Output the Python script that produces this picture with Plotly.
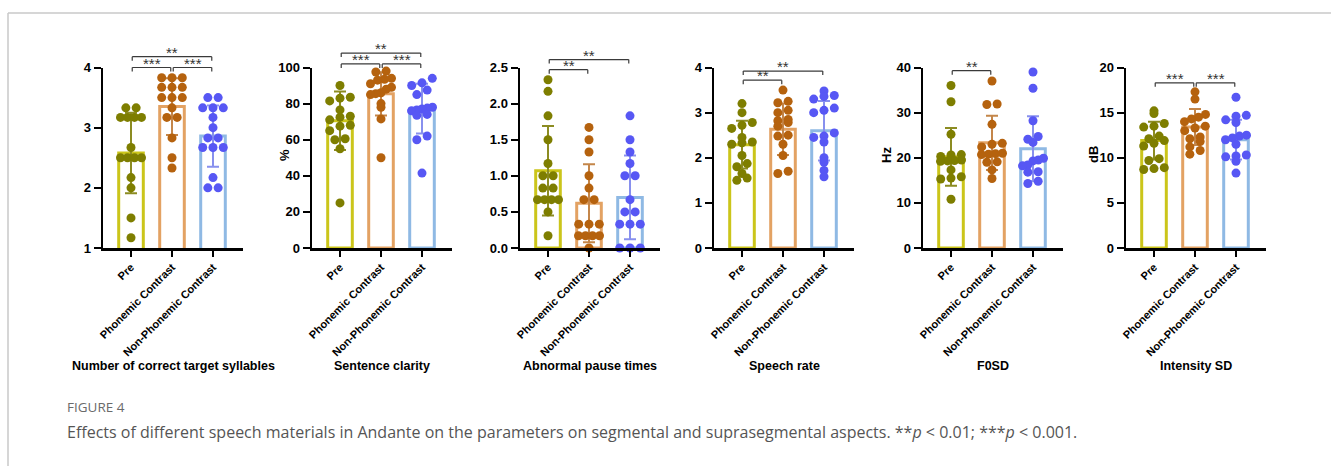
import plotly.graph_objects as go

W, H = 1331, 466

GROUPS = ["Pre", "Phonemic Contrast", "Non-Phonemic Contrast"]

# ---------------- data ----------------
# Panel 1: Number of correct target syllables
syll_pre = [3.33, 3.33, 3.17, 3.17, 3.17, 3.17, 2.67, 2.5, 2.5, 2.5, 2.5, 2.17, 2.0, 1.5, 1.17]
syll_phon = [3.83, 3.83, 3.83, 3.67, 3.67, 3.67, 3.5, 3.5, 3.5, 3.33, 3.17, 3.17, 2.83, 2.5, 2.33]
syll_non = [3.5, 3.5, 3.33, 3.33, 3.33, 3.17, 3.0, 2.83, 2.83, 2.67, 2.67, 2.67, 2.17, 2.0, 2.0]
syll_mean = [2.58, 3.35, 2.86]
syll_sd = [0.67, 0.47, 0.51]

# Panel 2: Sentence clarity (%)
clar_pre = [90, 83.5, 83, 81.5, 76.5, 73, 72.5, 71, 68, 67.5, 65, 60.5, 60, 55, 25]
clar_phon = [98, 97.5, 94, 93.5, 93, 91, 89, 88, 86, 85.5, 85, 80, 78, 71.5, 50]
clar_non = [94, 91.5, 90, 87.5, 85, 78, 77.5, 77, 76.5, 76, 74, 73.5, 62, 60, 41.5]
clar_mean = [70.5, 85.4, 77.2]
clar_sd = [16.2, 12.0, 13.8]

# Panel 3: Abnormal pause times
pause_pre = [2.33, 2.17, 1.83, 1.5, 1.17, 1.0, 1.0, 0.83, 0.83, 0.67, 0.67, 0.67, 0.67, 0.5, 0.17]
pause_phon = [1.67, 1.5, 1.33, 1.0, 0.83, 0.67, 0.67, 0.33, 0.33, 0.33, 0.17, 0.17, 0.17, 0.17, 0.0]
pause_non = [1.83, 1.5, 1.33, 1.17, 1.0, 1.0, 0.67, 0.5, 0.5, 0.33, 0.33, 0.33, 0.0, 0.0, 0.0]
pause_mean = [1.07, 0.62, 0.70]
pause_sd = [0.62, 0.54, 0.58]

# Panel 4: Speech rate
rate_pre = [3.2, 3.0, 2.78, 2.72, 2.65, 2.45, 2.35, 2.33, 2.3, 2.05, 1.87, 1.8, 1.65, 1.55, 1.5]
rate_phon = [3.5, 3.25, 3.22, 3.05, 3.0, 2.85, 2.82, 2.78, 2.7, 2.5, 2.48, 2.3, 2.05, 1.7, 1.65]
rate_non = [3.48, 3.38, 3.36, 3.3, 3.1, 3.05, 3.0, 2.55, 2.48, 2.45, 2.35, 2.0, 1.9, 1.72, 1.58]
rate_mean = [2.29, 2.63, 2.60]
rate_sd = [0.53, 0.57, 0.66]

# Panel 5: F0SD (Hz)
f0_pre = [36, 32.4, 25.2, 20.7, 20.6, 20.3, 19.5, 19.4, 19.3, 19.2, 17.3, 15.8, 15.5, 15.3, 10.8]
f0_phon = [37, 31.9, 31.8, 27.4, 23.2, 23.0, 22.4, 21.0, 20.9, 20.8, 20.7, 19.1, 19.0, 17.3, 15.4]
f0_non = [39.0, 35.4, 28.2, 24.7, 24.1, 23.4, 19.9, 19.5, 19.3, 18.4, 18.2, 16.9, 16.8, 14.8, 14.3]
f0_mean = [20.2, 23.3, 22.0]
f0_sd = [6.4, 6.0, 7.2]

# Panel 6: Intensity SD (dB)
int_pre = [15.2, 14.9, 13.8, 13.5, 13.4, 12.4, 12.1, 11.9, 11.6, 11.3, 9.9, 9.7, 8.9, 8.8, 8.7]
int_phon = [17.3, 16.5, 14.8, 14.5, 14.3, 14.0, 13.5, 13.3, 13.0, 12.3, 12.1, 11.8, 11.2, 10.8, 10.4]
int_non = [16.7, 14.7, 14.6, 14.2, 13.9, 12.5, 12.4, 12.2, 12.0, 11.5, 10.3, 10.2, 10.1, 9.6, 8.3]
int_mean = [11.9, 13.4, 12.0]
int_sd = [2.1, 2.0, 2.2]

TITLES = ["Number of correct target syllables", "Sentence clarity", "Abnormal pause times",
          "Speech rate", "F0SD", "Intensity SD"]
Y_TITLES = ["", "%", "", "", "Hz", "dB"]
Y_RANGES = [[1, 4], [0, 100], [0, 2.5], [0, 4], [0, 40], [0, 20]]
Y_DTICKS = [1, 20, 0.5, 1, 10, 5]
Y_DECIMALS = [0, 0, 1, 0, 0, 0]

# significance brackets: (group i, group j, level, label)
SIG = [
    [(0, 1, 4.0, "***"), (1, 2, 4.0, "***"), (0, 2, 4.18, "**")],
    [(0, 1, 102, "***"), (1, 2, 102, "***"), (0, 2, 108, "**")],
    [(0, 1, 2.47, "**"), (0, 2, 2.61, "**")],
    [(0, 1, 3.72, "**"), (0, 2, 3.92, "**")],
    [(0, 1, 39.3, "**")],
    [(0, 1, 18.3, "***"), (1, 2, 18.3, "***")],
]

PANELS = [
    ([syll_pre, syll_phon, syll_non], syll_mean, syll_sd),
    ([clar_pre, clar_phon, clar_non], clar_mean, clar_sd),
    ([pause_pre, pause_phon, pause_non], pause_mean, pause_sd),
    ([rate_pre, rate_phon, rate_non], rate_mean, rate_sd),
    ([f0_pre, f0_phon, f0_non], f0_mean, f0_sd),
    ([int_pre, int_phon, int_non], int_mean, int_sd),
]

# ---------------- layout geometry ----------------
AX_LEFT = [103, 312, 520, 714, 923, 1126]
AX_W = 140
PLOT_TOP, PLOT_BOT = 67.5, 248.0
CAT_PX = 41.0
FIRST_PX = 28.0
DOT = 9.0
STEP = 10.3
ROW_SPAN = 21.0
YTITLE_POS = {1: (285, 155), 4: (887, 155), 5: (1094, 155)}

BAR_LINE = ["#cbc51a", "#e3a263", "#8fb9e4"]
DOT_COL = ["#7e7e00", "#b5620e", "#5757f4"]
ERR_COL = ["#8c8c22", "#c4864a", "#8890ee"]

FONT = "Liberation Sans, Arial, sans-serif"


def swarm(vals, ppu_y, ymin):
    """GraphPad-like scatter: points binned into rows one dot high, each row centred."""
    rows = {}
    for i, v in enumerate(vals):
        b = int(((v - ymin) * ppu_y + 1e-6) // DOT)
        rows.setdefault(b, []).append(i)
    offs = [0.0] * len(vals)
    for idx in rows.values():
        idx.sort(key=lambda i: vals[i])
        m = len(idx)
        sp = STEP if m < 2 else min(STEP, ROW_SPAN / (m - 1))
        for k, i in enumerate(idx):
            offs[i] = (k - (m - 1) / 2.0) * sp
    return offs


fig = go.Figure()
layout = dict(
    template="none",
    width=W, height=H, margin=dict(l=0, r=0, t=0, b=0, pad=0, autoexpand=False), autosize=False,
    paper_bgcolor="white", plot_bgcolor="white", showlegend=False,
    font=dict(family=FONT, color="black"),
)
shapes = []
annotations = []

x_lo = -FIRST_PX / CAT_PX
x_hi = (AX_W - FIRST_PX) / CAT_PX
ydom = [1 - PLOT_BOT / H, 1 - PLOT_TOP / H]
plot_h = PLOT_BOT - PLOT_TOP

for p, (groups, means, sds) in enumerate(PANELS):
    sfx = "" if p == 0 else str(p + 1)
    xa, ya = "x" + sfx, "y" + sfx
    ymin, ymax = Y_RANGES[p]
    ppu_y = plot_h / (ymax - ymin)
    nt = int(round((ymax - ymin) / Y_DTICKS[p]))
    yt = [ymin + t * Y_DTICKS[p] for t in range(nt + 1)]
    ytt = ["<b>%.*f</b>" % (Y_DECIMALS[p], v) for v in yt]

    layout["xaxis" + sfx] = dict(
        domain=[AX_LEFT[p] / W, (AX_LEFT[p] + AX_W) / W], anchor=ya, automargin=False,
        range=[x_lo, x_hi], tickvals=[0, 1, 2], ticktext=["<b>%s</b>" % g for g in GROUPS],
        tickangle=-45, ticks="outside", ticklen=6, tickwidth=2, tickcolor="black",
        showline=True, linewidth=2.5, linecolor="black", showgrid=False, zeroline=False,
        tickfont=dict(family=FONT, size=11, color="black"), fixedrange=True,
    )
    layout["yaxis" + sfx] = dict(
        domain=ydom, anchor=xa, range=[ymin, ymax], tickvals=yt, ticktext=ytt, automargin=False,
        ticks="outside", ticklen=7, tickwidth=2, tickcolor="black",
        showline=True, linewidth=2.5, linecolor="black", showgrid=False, zeroline=False,
        tickfont=dict(family=FONT, size=13, color="black"), fixedrange=True,
    )

    fig.add_trace(go.Bar(
        x=[0, 1, 2], y=means, width=0.6, xaxis=xa, yaxis=ya,
        marker=dict(color="white", line=dict(color=BAR_LINE, width=3)),
        hoverinfo="skip",
    ))
    for g in range(3):
        fig.add_trace(go.Scatter(
            x=[g], y=[means[g]], mode="markers", xaxis=xa, yaxis=ya,
            marker=dict(size=1, color="rgba(0,0,0,0)"),
            error_y=dict(type="data", array=[sds[g]], visible=True, color=ERR_COL[g],
                         thickness=2, width=6),
            hoverinfo="skip",
        ))
    for g in range(3):
        offs = swarm(groups[g], ppu_y, ymin)
        fig.add_trace(go.Scatter(
            x=[g + o / CAT_PX for o in offs], y=groups[g], mode="markers",
            xaxis=xa, yaxis=ya, cliponaxis=False,
            marker=dict(size=DOT, color=DOT_COL[g], line=dict(width=0)),
        ))

    # significance brackets
    tick = 4.0 / plot_h
    for (i, j, lev, lab) in SIG[p]:
        yd = (lev - ymin) / (ymax - ymin)
        x0, x1 = i + 0.03, j - 0.03
        for (ax0, ay0, ax1, ay1) in [(x0, yd, x1, yd), (x0, yd, x0, yd - tick), (x1, yd, x1, yd - tick)]:
            shapes.append(dict(type="line", xref=xa, yref=ya + " domain",
                               x0=ax0, y0=ay0, x1=ax1, y1=ay1,
                               line=dict(color="#3a3a3a", width=1.2)))
        annotations.append(dict(
            x=(i + j) / 2.0, y=yd, xref=xa, yref=ya + " domain", text=lab,
            showarrow=False, xanchor="center", yanchor="bottom", yshift=-6,
            font=dict(family=FONT, size=15, color="#333333"),
        ))

    # axis title below
    annotations.append(dict(
        x=(AX_LEFT[p] + AX_W / 2.0) / W, y=1 - 366 / H, xref="paper", yref="paper",
        text="<b>%s</b>" % TITLES[p], showarrow=False, xanchor="center", yanchor="middle",
        font=dict(family=FONT, size=12.5, color="black"),
    ))
    if Y_TITLES[p]:
        yx, yy = YTITLE_POS[p]
        annotations.append(dict(
            x=yx / W, y=1 - yy / H, xref="paper", yref="paper", text="<b>%s</b>" % Y_TITLES[p],
            showarrow=False, textangle=-90, xanchor="center", yanchor="middle",
            font=dict(family=FONT, size=13, color="black"),
        ))

# frame
shapes.append(dict(type="line", xref="paper", yref="paper", x0=8 / W, x1=1, y0=1 - 13 / H, y1=1 - 13 / H,
                   line=dict(color="#c8c8c8", width=1.5)))
shapes.append(dict(type="line", xref="paper", yref="paper", x0=8 / W, x1=8 / W, y0=0, y1=1 - 13 / H,
                   line=dict(color="#c8c8c8", width=1.5)))

# caption
annotations.append(dict(
    x=65 / W, y=1 - 407 / H, xref="paper", yref="paper", text="FIGURE 4", showarrow=False,
    xanchor="left", yanchor="middle", font=dict(family="Open Sans, Lato, sans-serif", size=13.5, color="#6a6a6a"),
))
annotations.append(dict(
    x=65 / W, y=1 - 432 / H, xref="paper", yref="paper",
    text="Effects of different speech materials in Andante on the parameters on segmental and "
         "suprasegmental aspects. **<i>p</i> &lt; 0.01; ***<i>p</i> &lt; 0.001.",
    showarrow=False, xanchor="left", yanchor="middle",
    font=dict(family="Open Sans, Lato, sans-serif", size=16, color="#555555"),
))

layout["shapes"] = shapes
layout["annotations"] = annotations
fig.update_layout(**layout)

fig.write_html(
    "out.html", config={"displayModeBar": False, "staticPlot": True},
    post_script=("document.documentElement.style.margin='0';document.body.style.margin='0';"
                 "document.body.style.overflow='hidden';"
                 "var d=document.getElementById('{plot_id}');"
                 "d.style.position='fixed';d.style.left='0px';d.style.top='0px';"),
)
